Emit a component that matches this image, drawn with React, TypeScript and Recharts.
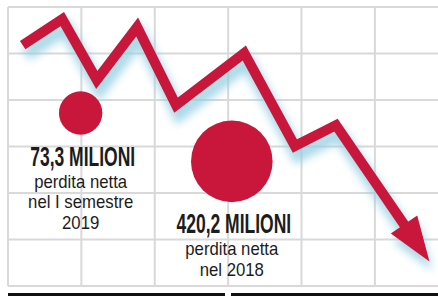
import React from 'react';
import { ComposedChart, Line, Scatter, XAxis, YAxis, CartesianGrid } from 'recharts';

// ---- data ----
const lineX = [0.2, 0.74, 1.21, 1.76, 2.29, 3.22, 3.91, 4.47, 5.42];
const lineY = [5.18, 5.74, 4.43, 5.57, 3.89, 5.01, 3.01, 3.46, 1.27];
const bubbleX = [0.99, 3.05];
const bubbleY = [3.72, 2.68];
const bubbleValues = [73.3, 420.2];
const bubbleUnit = 'MILIONI';
const bubbleCaptions = [
  ['perdita netta', 'nel I semestre', '2019'],
  ['perdita netta', 'nel 2018'],
];
const xTicks = [0, 1, 2, 3, 4, 5];
const yTicks = [0, 1, 2, 3, 4, 5, 6];

const lineData = lineX.map((x, i) => ({ x, y: lineY[i] }));
const bubbleData = bubbleX.map((x, i) => ({
  x,
  y: bubbleY[i],
  value: bubbleValues[i],
  caption: bubbleCaptions[i],
}));

const RED = '#c8173a';
const SHADOW = '#8fcde0';
const INK = '#1c1c1c';
const FONT = "'Liberation Sans', Arial, sans-serif";

const arrowPoints = (cx: number, cy: number, angle: number) => {
  const L = 42;
  const W = 16;
  const back = 3;
  const ux = Math.cos(angle);
  const uy = Math.sin(angle);
  const tx = cx + ux * L;
  const ty = cy + uy * L;
  const ax = cx - ux * back - uy * W;
  const ay = cy - uy * back + ux * W;
  const bx = cx - ux * back + uy * W;
  const by = cy - uy * back - ux * W;
  return `${ax},${ay} ${tx},${ty} ${bx},${by}`;
};

// Renders the trend from the library-computed points: soft shadow first,
// then the red stroke and the arrow head on top.
const TrendDot = (props: any) => {
  const { index, points } = props;
  if (index !== 0 || !points || points.length < 2) return <g key={`d${index}`} />;
  const n = points.length;
  const last = points[n - 1];
  const prev = points[n - 2];
  const angle = Math.atan2(last.y - prev.y, last.x - prev.x);
  const d = points.map((p: any, i: number) => `${i ? 'L' : 'M'}${p.x},${p.y}`).join(' ');
  return (
    <g key="trend">
      <g style={{ filter: 'blur(4px)', opacity: 0.75 }} transform="translate(3,9)">
        <path d={d} fill="none" stroke={SHADOW} strokeWidth={14} />
        <polygon points={arrowPoints(last.x, last.y, angle)} fill={SHADOW} />
      </g>
      <path
        d={d}
        fill="none"
        stroke={RED}
        strokeWidth={10}
        strokeLinejoin="miter"
        strokeMiterlimit={10}
      />
      <polygon points={arrowPoints(last.x, last.y, angle)} fill={RED} />
    </g>
  );
};

const Bubble = (props: any) => {
  const { cx, cy, payload } = props;
  if (cx == null) return <g />;
  const r = 8 + 1.6 * Math.sqrt(payload.value);
  const bold = cy + r + 31;
  const label = `${payload.value.toFixed(1).replace('.', ',')} ${bubbleUnit}`;
  return (
    <g>
      <circle cx={cx} cy={cy} r={r} fill={RED} />
      <text
        transform={`translate(${cx + 2},${bold}) scale(0.625,1)`}
        textAnchor="middle"
        fontFamily={FONT}
        fontWeight="bold"
        fontSize={28}
        fill={INK}
      >
        {label}
      </text>
      {payload.caption.map((c: string, i: number) => (
        <text
          key={i}
          transform={`translate(${cx},${bold + 22 + i * 20.5}) scale(0.93,1)`}
          textAnchor="middle"
          fontFamily={FONT}
          fontSize={18}
          fill={INK}
        >
          {c}
        </text>
      ))}
    </g>
  );
};

export default function App() {
  return (
    <div
      style={{
        position: 'absolute',
        left: 0,
        top: 0,
        width: 438,
        height: 296,
        background: '#fff',
        overflow: 'hidden',
      }}
    >
      <ComposedChart
        width={438}
        height={296}
        margin={{ top: 7, right: 0, left: 8, bottom: 10 }}
      >
        <XAxis
          type="number"
          dataKey="x"
          domain={[0, 5.86]}
          ticks={xTicks}
          hide
          allowDataOverflow
        />
        <YAxis
          type="number"
          domain={[0, 6]}
          ticks={yTicks}
          hide
          allowDataOverflow
        />
        <CartesianGrid
          stroke="#d9d9d9"
          strokeWidth={2}
          verticalValues={xTicks}
          horizontalValues={yTicks}
        />
        <Line
          data={lineData}
          dataKey="y"
          name="trend"
          type="linear"
          stroke="none"
          strokeWidth={0}
          dot={TrendDot}
          activeDot={false}
          isAnimationActive={false}
        />
        <Scatter
          data={bubbleData}
          dataKey="y"
          shape={Bubble}
          isAnimationActive={false}
        />
      </ComposedChart>
      <div style={{ position: 'absolute', left: 8, top: 293, width: 217, height: 3, background: '#111' }} />
      <div style={{ position: 'absolute', left: 231, top: 293, width: 207, height: 3, background: '#111' }} />
    </div>
  );
}
